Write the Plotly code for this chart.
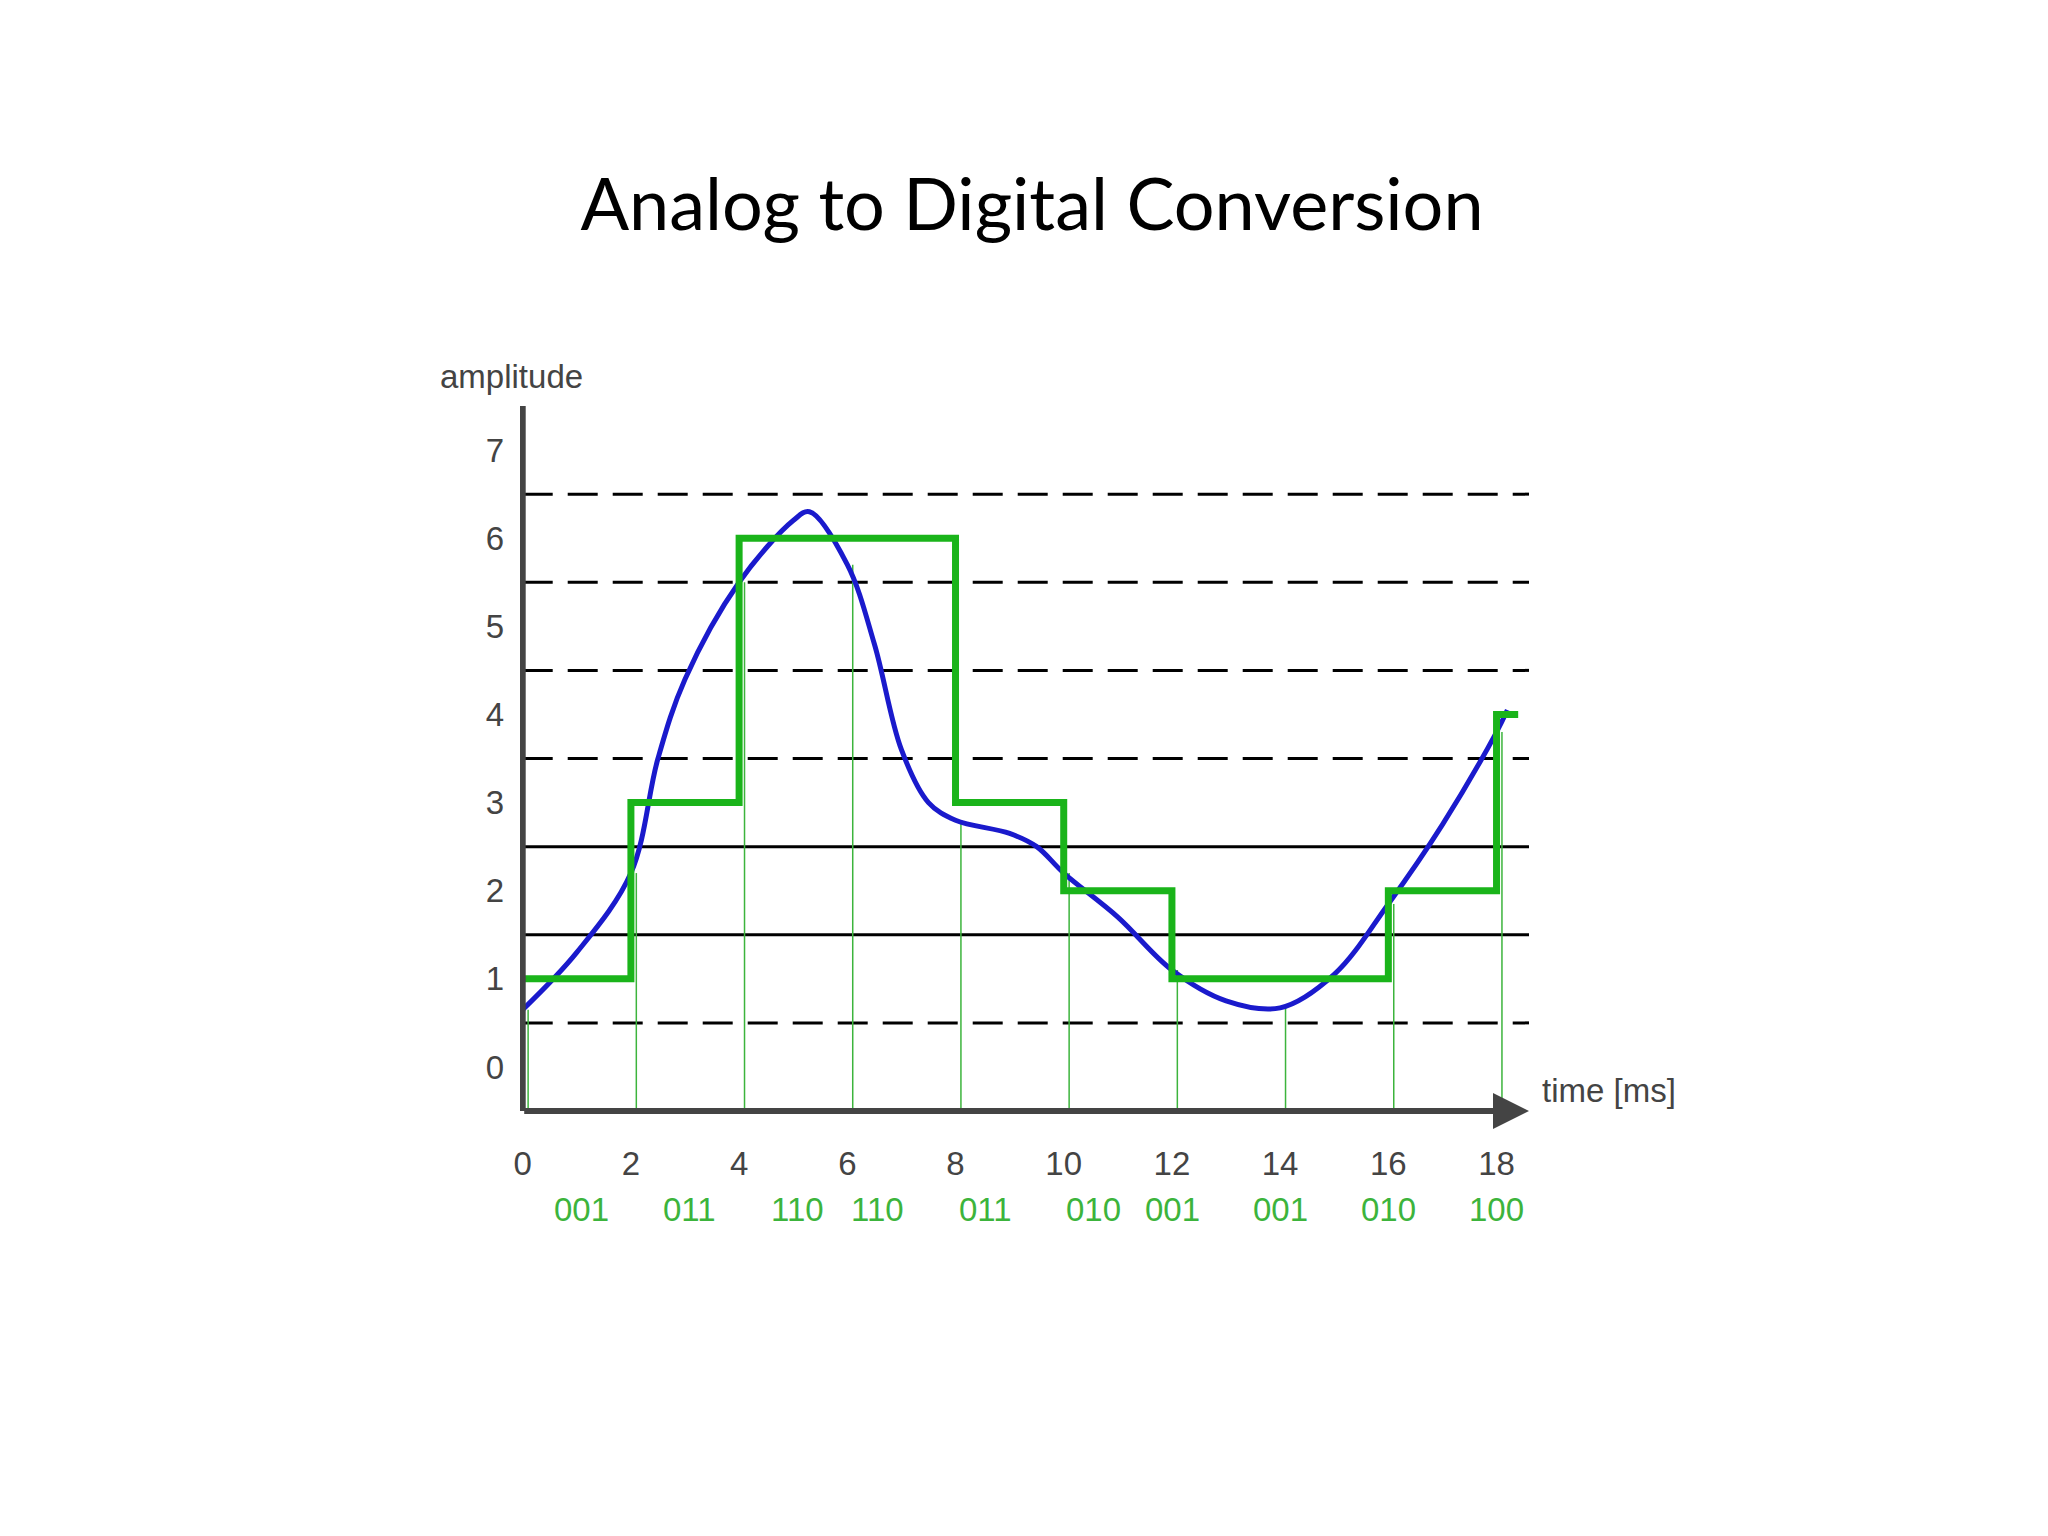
import plotly.graph_objects as go

curve_t = [0, 1, 2, 2.5, 3, 4, 5, 5.3, 6, 6.5, 7, 7.5, 8, 9, 9.5, 10, 11, 12, 13, 14, 15, 16, 17, 18, 18.2]
curve_a = [0.65, 1.3, 2.2, 3.5, 4.4, 5.5, 6.2, 6.3, 5.7, 4.8, 3.6, 3.0, 2.8, 2.65, 2.5, 2.2, 1.7, 1.1, 0.75, 0.67, 1.05, 1.85, 2.75, 3.8, 4.05]
sample_t = [0, 2, 4, 6, 8, 10, 12, 14, 16, 18]
sample_a = [0.65, 2.2, 5.5, 5.7, 2.8, 2.2, 1.1, 0.67, 1.85, 3.8]
step_t = [0, 2, 4, 8, 10, 12, 16, 18, 18.4]
step_a = [1, 3, 6, 3, 2, 1, 2, 4, 4]
codes = ["001", "011", "110", "110", "011", "010", "001", "001", "010", "100"]
grid_levels = [0.5, 1.5, 2.5, 3.5, 4.5, 5.5, 6.5]
grid_dash = ["dash", "solid", "solid", "dash", "dash", "dash", "dash"]

X0, X1, Y0, Y1 = -0.05, 18.6, -0.5, 7.5
px = lambda x: (x - X0) / (X1 - X0)
py = lambda y: (y - Y0) / (Y1 - Y0)

fig = go.Figure()
for t, a in zip(sample_t, sample_a):
    fig.add_trace(go.Scatter(x=[t + 0.1, t + 0.1], y=[-0.5, a], mode="lines",
                             line=dict(color="#3cb43c", width=1.5), showlegend=False))
fig.add_trace(go.Scatter(x=curve_t, y=curve_a, mode="lines", line=dict(color="#1a1acc", width=5, shape="spline"), showlegend=False))
fig.add_trace(go.Scatter(x=step_t, y=step_a, mode="lines", line=dict(color="#1ab41a", width=7, shape="hv"), showlegend=False))

for lv, d in zip(grid_levels, grid_dash):
    fig.add_shape(type="line", x0=0, x1=18.6, y0=lv, y1=lv, layer="below",
                  line=dict(color="black", width=3, dash="30px,15px" if d == "dash" else "solid"))
fig.add_shape(type="line", x0=0, x1=0, y0=-0.5, y1=7.5, line=dict(color="#444", width=6))
fig.add_annotation(x=18.6, y=-0.5, ax=0, ay=-0.5, axref="x", ayref="y", xref="x", yref="y",
                   showarrow=True, arrowhead=2, arrowsize=1.2, arrowwidth=6, arrowcolor="#444", text="")
fig.add_annotation(x=px(18.8), y=py(-0.5), xref="paper", yref="paper", text="time [ms]", showarrow=False, xanchor="left",
                   font=dict(size=33, color="#444", family="Liberation Sans"))
fig.add_annotation(x=px(-0.2), y=py(7.6), xref="paper", yref="paper", text="amplitude", showarrow=False, xanchor="center", yanchor="bottom",
                   font=dict(size=33, color="#444", family="Liberation Sans"))
for t, c in zip(sample_t, codes):
    fig.add_annotation(x=px(t + 0.55), y=py(-1.85), xref="paper", yref="paper", text=c, showarrow=False,
                       font=dict(size=33, color="#3cb43c", family="Liberation Sans"))

fig.update_layout(
    width=2048, height=1536, plot_bgcolor="white", paper_bgcolor="white",
    margin=dict(l=512, r=527, t=398, b=433),
    title=dict(text="Analog to Digital Conversion", x=0.5, xanchor="center", y=0.872, yanchor="middle",
               font=dict(size=72, color="black", family="Lato")),
    xaxis=dict(range=[X0, X1], tickvals=list(range(0, 19, 2)), showgrid=False, zeroline=False,
               showline=False, ticks="", ticklabelstandoff=30,
               tickfont=dict(size=33, color="#444", family="Liberation Sans")),
    yaxis=dict(range=[Y0, Y1], tickvals=list(range(0, 8)), showgrid=False, zeroline=False,
               showline=False, ticks="", ticklabelstandoff=15,
               tickfont=dict(size=33, color="#444", family="Liberation Sans")),
)
fig.write_html("out.html")
